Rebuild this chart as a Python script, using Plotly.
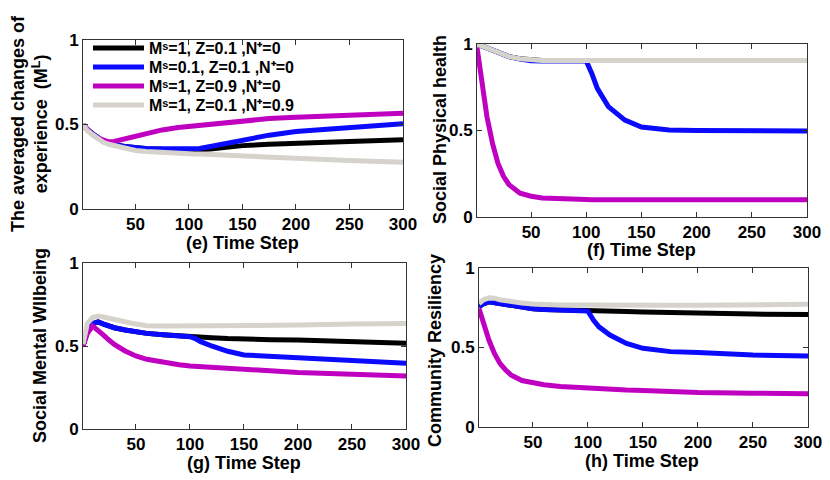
import plotly.graph_objects as go

t = [1, 5, 10, 15, 20, 25, 30, 40, 50, 60, 75, 90, 100, 105, 110, 120, 135, 150, 175, 200, 250, 300]

series_names = [
    'Mˢ=1, Z=0.1 ,N⁺=0',
    'Mˢ=0.1, Z=0.1 ,N⁺=0',
    'Mˢ=1, Z=0.9 ,N⁺=0',
    'Mˢ=1, Z=0.1 ,N⁺=0.9',
]
colors = ['#000000', '#0a0aff', '#c000c0', '#d6d3cc']

# (e) averaged changes of experience
e_black = [0.50, 0.47, 0.445, 0.42, 0.40, 0.39, 0.38, 0.37, 0.362, 0.357, 0.353, 0.35, 0.35, 0.35, 0.352, 0.355, 0.365, 0.375, 0.383, 0.39, 0.40, 0.41]
e_blue = [0.50, 0.47, 0.445, 0.42, 0.40, 0.39, 0.38, 0.37, 0.362, 0.358, 0.356, 0.355, 0.355, 0.356, 0.358, 0.37, 0.39, 0.41, 0.437, 0.459, 0.484, 0.504]
e_purple = [0.50, 0.47, 0.44, 0.42, 0.405, 0.398, 0.40, 0.415, 0.433, 0.448, 0.468, 0.482, 0.488, 0.492, 0.496, 0.505, 0.515, 0.524, 0.535, 0.543, 0.557, 0.567]
e_gray = [0.50, 0.465, 0.44, 0.415, 0.395, 0.383, 0.375, 0.36, 0.346, 0.34, 0.333, 0.329, 0.327, 0.326, 0.325, 0.322, 0.317, 0.311, 0.305, 0.30, 0.287, 0.276]

# (f) social physical health
f_black = [1.0, 0.99, 0.975, 0.96, 0.946, 0.936, 0.927, 0.915, 0.908, 0.905, 0.905, 0.905, 0.905, 0.905, 0.905, 0.905, 0.905, 0.905, 0.905, 0.905, 0.905, 0.905]
f_blue = [1.0, 0.99, 0.975, 0.96, 0.946, 0.936, 0.927, 0.913, 0.903, 0.902, 0.902, 0.902, 0.902, 0.83, 0.744, 0.638, 0.56, 0.52, 0.503, 0.50, 0.498, 0.497]
f_purple = [0.98, 0.79, 0.58, 0.427, 0.31, 0.235, 0.187, 0.138, 0.12, 0.11, 0.104, 0.102, 0.101, 0.10, 0.10, 0.10, 0.10, 0.10, 0.10, 0.10, 0.10, 0.10]
f_gray = [1.0, 0.99, 0.975, 0.96, 0.946, 0.936, 0.927, 0.915, 0.908, 0.905, 0.905, 0.905, 0.905, 0.905, 0.905, 0.905, 0.905, 0.905, 0.905, 0.905, 0.905, 0.905]

# (g) social mental wellbeing
g_black = [0.50, 0.586, 0.635, 0.645, 0.632, 0.62, 0.61, 0.596, 0.585, 0.576, 0.568, 0.56, 0.556, 0.553, 0.552, 0.55, 0.545, 0.54, 0.538, 0.536, 0.526, 0.516]
g_blue = [0.50, 0.586, 0.635, 0.645, 0.632, 0.62, 0.61, 0.596, 0.585, 0.576, 0.568, 0.56, 0.556, 0.545, 0.526, 0.50, 0.468, 0.446, 0.436, 0.426, 0.412, 0.396]
g_purple = [0.50, 0.576, 0.62, 0.596, 0.565, 0.536, 0.51, 0.47, 0.44, 0.42, 0.40, 0.387, 0.38, 0.378, 0.375, 0.37, 0.362, 0.356, 0.348, 0.34, 0.33, 0.32]
g_gray = [0.51, 0.636, 0.672, 0.68, 0.675, 0.666, 0.66, 0.646, 0.632, 0.622, 0.62, 0.62, 0.62, 0.62, 0.62, 0.62, 0.621, 0.622, 0.624, 0.626, 0.632, 0.636]

# (h) community resiliency
h_black = [0.756, 0.775, 0.787, 0.782, 0.772, 0.765, 0.76, 0.75, 0.744, 0.739, 0.735, 0.731, 0.729, 0.728, 0.728, 0.727, 0.726, 0.724, 0.719, 0.714, 0.71, 0.708]
h_blue = [0.756, 0.775, 0.787, 0.782, 0.772, 0.765, 0.76, 0.75, 0.744, 0.739, 0.735, 0.731, 0.729, 0.672, 0.63, 0.578, 0.526, 0.495, 0.474, 0.468, 0.453, 0.447]
h_purple = [0.745, 0.65, 0.547, 0.463, 0.40, 0.36, 0.328, 0.292, 0.276, 0.266, 0.255, 0.248, 0.244, 0.242, 0.24, 0.237, 0.233, 0.23, 0.223, 0.217, 0.213, 0.209]
h_gray = [0.777, 0.80, 0.812, 0.81, 0.80, 0.793, 0.787, 0.78, 0.774, 0.77, 0.768, 0.767, 0.766, 0.766, 0.766, 0.766, 0.766, 0.766, 0.766, 0.766, 0.769, 0.772]

x_ticks = [50, 100, 150, 200, 250, 300]
y_ticks = [0, 0.5, 1]
y_tick_text = ['0', '0.5', '1']

# the page body has an 8px margin, so the figure is shrunk and everything shifted by it
OFF = 8
W, H = 830 - OFF, 480 - OFF
FONT = 'Liberation Sans'


def px_x(v):
    return (v - OFF) / W


def px_y(v):
    return 1 - (v - OFF) / H


# panel boxes in window pixels: left, right, top, bottom
panels = [
    dict(data=[e_black, e_blue, e_purple, e_gray], box=(83, 403, 40, 209),
         xtitle='(e) Time Step', xt=(242, 243),
         ytitle='The averaged changes of<br>experience  (M<sup>L</sup>)', yt=(29, 124)),
    dict(data=[f_black, f_blue, f_purple, f_gray], box=(477, 807, 44, 217),
         xtitle='(f) Time Step', xt=(641, 250),
         ytitle='Social Physical health', yt=(440, 130)),
    dict(data=[g_black, g_blue, g_purple, g_gray], box=(83, 406, 263, 429),
         xtitle='(g) Time Step', xt=(244, 463),
         ytitle='Social Mental Wllbeing', yt=(40, 346)),
    dict(data=[h_black, h_blue, h_purple, h_gray], box=(479, 808, 268, 427),
         xtitle='(h) Time Step', xt=(642, 461),
         ytitle='Community Resiliency', yt=(435, 351)),
]

# one small legend per series so the rows sit as tight as in the picture
legend_rows = [48, 67, 86, 105]

fig = go.Figure()
annotations = []
axis_style = dict(showline=True, linecolor='#333', linewidth=1, mirror='ticks',
                  ticks='inside', ticklen=5, tickcolor='#333', showgrid=False, zeroline=False,
                  automargin=False,
                  tickfont=dict(family=FONT, size=17, color='black', weight='bold'))
title_font = dict(family=FONT, size=18, color='black', weight='bold')

for i, p in enumerate(panels):
    n = '' if i == 0 else str(i + 1)
    l, r, top, bot = p['box']
    for j, ys in enumerate(p['data']):
        fig.add_trace(go.Scatter(x=t, y=ys, mode='lines', name=series_names[j],
                                 line=dict(color=colors[j], width=5),
                                 legend='legend' if j == 0 else 'legend' + str(j + 1),
                                 showlegend=(i == 0), xaxis='x' + n, yaxis='y' + n))
    fig.layout['xaxis' + n] = dict(domain=[px_x(l), px_x(r)], range=[1, 300], tickvals=x_ticks,
                                   anchor='y' + n, **axis_style)
    fig.layout['yaxis' + n] = dict(domain=[px_y(bot), px_y(top)], range=[0, 1], tickvals=y_ticks,
                                   ticktext=y_tick_text, anchor='x' + n, **axis_style)
    annotations.append(dict(text=p['xtitle'], x=px_x(p['xt'][0]), y=px_y(p['xt'][1]),
                            xref='paper', yref='paper', showarrow=False,
                            xanchor='center', yanchor='middle', font=title_font))
    annotations.append(dict(text=p['ytitle'], x=px_x(p['yt'][0]), y=px_y(p['yt'][1]),
                            xref='paper', yref='paper', showarrow=False, textangle=-90,
                            xanchor='center', yanchor='middle', font=title_font))

fig.update_layout(
    template='none',
    width=W, height=H,
    margin=dict(l=0, r=0, t=0, b=0, autoexpand=False),
    paper_bgcolor='white', plot_bgcolor='white',
    annotations=annotations,
)
for j, row in enumerate(legend_rows):
    key = 'legend' if j == 0 else 'legend' + str(j + 1)
    fig.layout[key] = dict(x=px_x(88), y=px_y(row), xanchor='left', yanchor='middle',
                           bgcolor='rgba(0,0,0,0)', itemwidth=51,
                           font=dict(family=FONT, size=16, color='black', weight='bold'))

fig.write_html("out.html")
